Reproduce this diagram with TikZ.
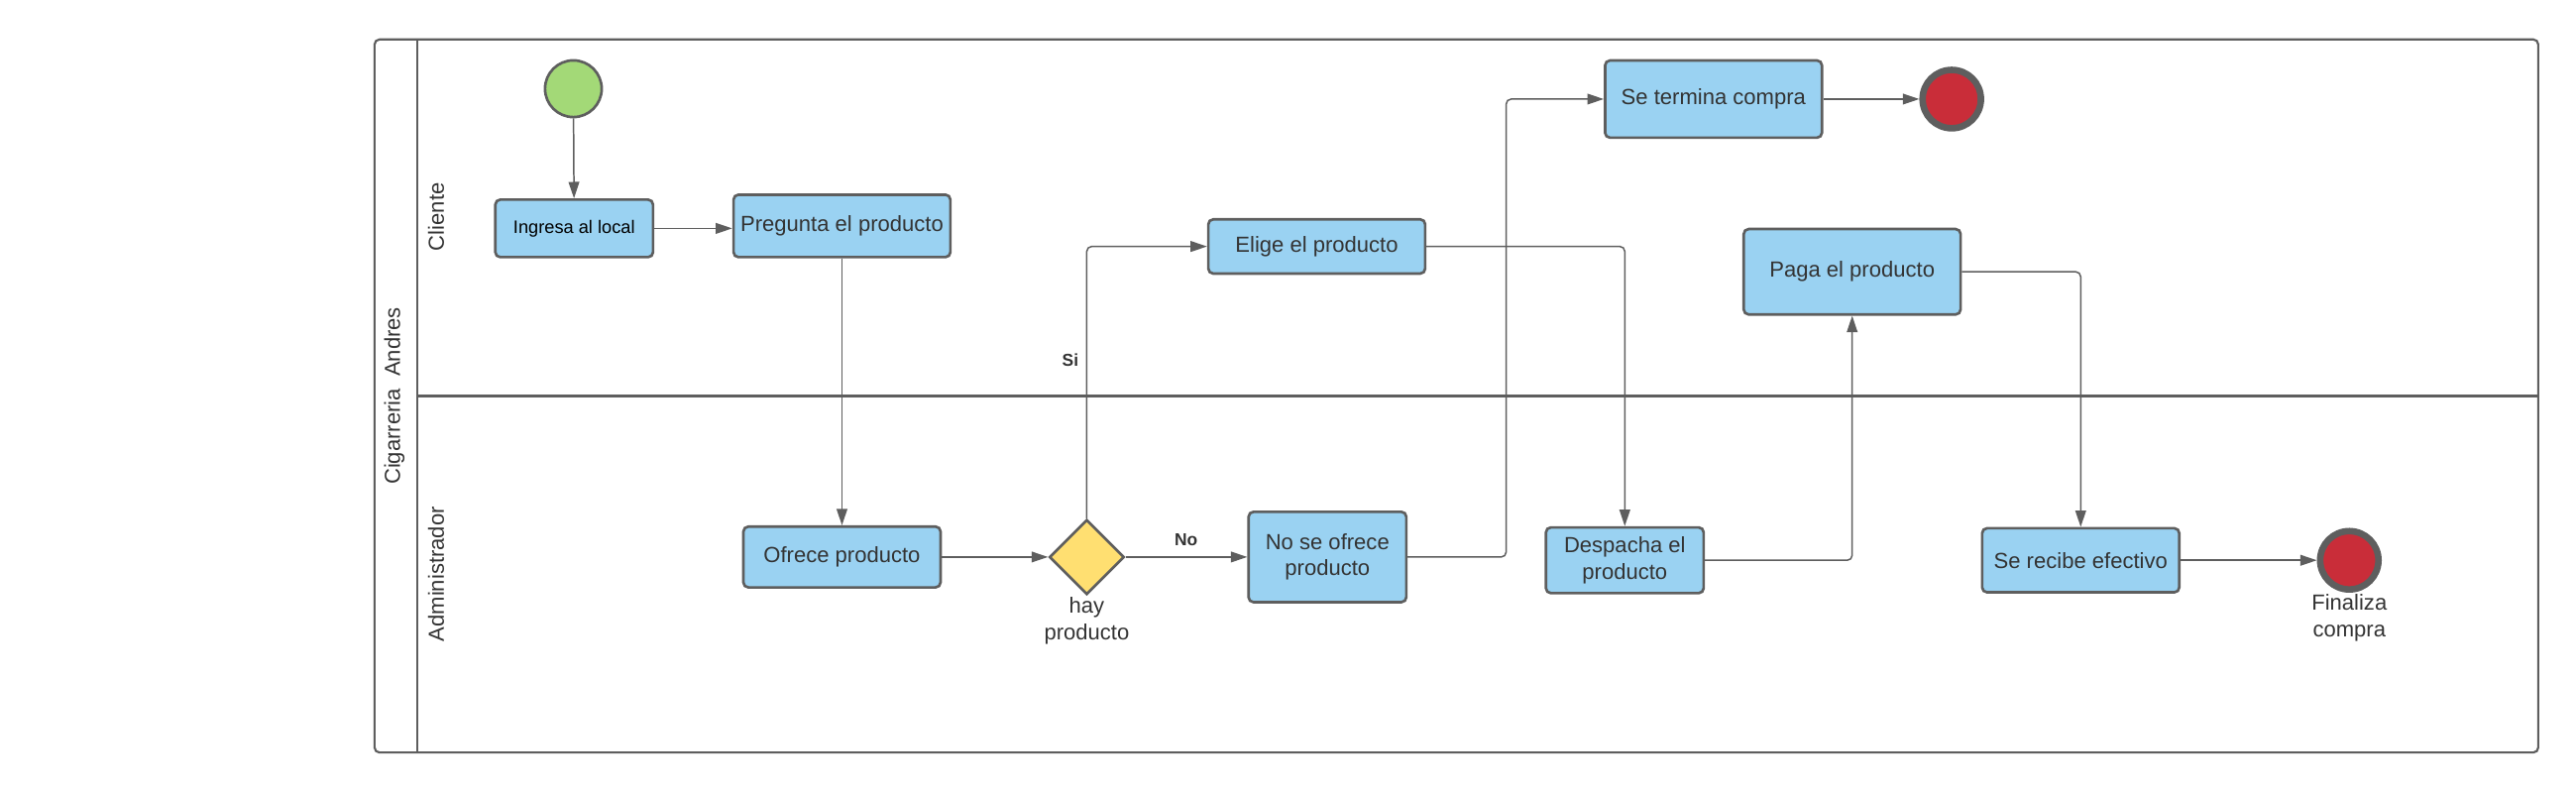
\documentclass[tikz,border=0pt]{standalone}
\usepackage{fontspec}
\setmainfont{Liberation Sans}
\usetikzlibrary{arrows.meta,shapes.geometric}
\definecolor{taskblue}{HTML}{9AD2F2}
\definecolor{edgegray}{HTML}{5E5E5E}
\definecolor{txtgray}{HTML}{333333}
\definecolor{startgreen}{HTML}{A3D977}
\definecolor{endred}{HTML}{C92D39}
\definecolor{gateyellow}{HTML}{FFDF71}
\begin{document}
\begin{tikzpicture}[x=1pt, y=-1pt, text=txtgray,
    font=\fontsize{13.3}{16}\selectfont,
    task/.style={draw=edgegray, fill=taskblue, line width=1.6pt, rounded corners=3pt, align=center, inner sep=2pt},
    flow/.style={draw=edgegray, line width=0.9pt, rounded corners=3pt, -{Triangle[length=10pt,width=6.5pt]}},
    gate/.style={diamond, draw=edgegray, fill=gateyellow, line width=1.6pt, minimum size=45.6pt, inner sep=0pt},
    startev/.style={circle, draw=edgegray, fill=startgreen, line width=1.6pt, minimum size=34.5pt},
    endev/.style={circle, draw=edgegray, fill=endred, line width=4pt, minimum size=35.5pt},
    cond/.style={font=\fontsize{10.5}{12}\selectfont\bfseries}]
  \useasboundingbox (0,0) rectangle (1568,482.6);
  % pool and lanes
  \draw[edgegray, line width=1.3pt, rounded corners=3pt] (228,24) rectangle (1545,458);
  \draw[edgegray, line width=1.3pt] (254,24) -- (254,458);
  \draw[edgegray, line width=1.3pt] (254,241) -- (1545,241);
  \node[rotate=90] (pool) at (240,241) {Cigarreria\ \ Andres};
  \node[rotate=90] (cliente) at (265.5,132) {Cliente};
  \node[rotate=90] (admin) at (265.5,349.5) {Administrador};
  % Cliente lane
  \node[startev] (inicio) at (349,54) {};
  \node[task, minimum width=96pt, minimum height=35pt, text=black, font=\fontsize{11}{13}\selectfont] (ingresa) at (349.5,139) {Ingresa al local};
  \node[task, minimum width=132pt, minimum height=38pt] (pregunta) at (512.5,137.5) {Pregunta el producto};
  \node[task, minimum width=132pt, minimum height=33pt] (elige) at (801.5,150) {Elige el producto};
  \node[task, minimum width=132pt, minimum height=47pt] (termina) at (1043,60.3) {Se termina compra};
  \node[endev] (fintop) at (1188,60.3) {};
  \node[task, minimum width=132pt, minimum height=52pt] (paga) at (1127.4,165.4) {Paga el producto};
  % Administrador lane
  \node[task, minimum width=120pt, minimum height=37pt] (ofrece) at (512.5,339) {Ofrece producto};
  \node[gate] (hay) at (661.5,339) {};
  \node[below, inner sep=1pt, align=center] (haylbl) at (hay.south) {hay\\producto};
  \node[task, minimum width=96pt, minimum height=55pt] (noofrece) at (808,339) {No se ofrece\\producto};
  \node[task, minimum width=96pt, minimum height=40pt] (despacha) at (989,341) {Despacha el\\producto};
  \node[task, minimum width=120pt, minimum height=39pt] (recibe) at (1266.5,341) {Se recibe efectivo};
  \node[endev] (finbot) at (1430,341) {};
  \node[below, inner sep=1pt, align=center] (finlbl) at (finbot.south) {Finaliza\\compra};
  % flows
  \draw[flow] (inicio) -- (ingresa);
  \draw[flow] (ingresa.east) -- (ingresa.east -| pregunta.west);
  \draw[flow] (pregunta) -- (ofrece);
  \draw[flow] (ofrece) -- (hay);
  \draw[flow] (hay.north) |- (elige.west);
  \draw[flow] (hay.east) -- (noofrece.west);
  \draw[flow] (noofrece.east) -- ++(60,0) |- (termina.west);
  \draw[flow] (termina) -- (fintop);
  \draw[flow] (elige.east) -| (despacha.north);
  \draw[flow] (despacha.east) -| (paga.south);
  \draw[flow] (paga.east) -| (recibe.north);
  \draw[flow] (recibe) -- (finbot);
  % conditions
  \node[cond] (si) at (651.5,219) {Si};
  \node[cond] (no) at (722,328.8) {No};
\end{tikzpicture}
\end{document}
